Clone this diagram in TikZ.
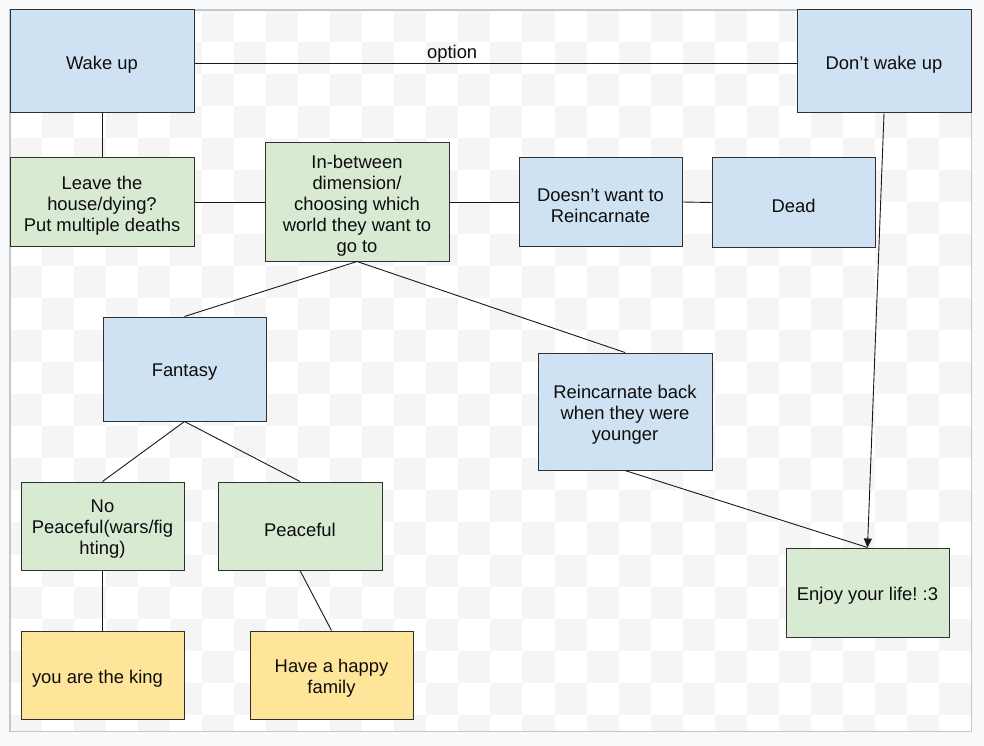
\documentclass[tikz,border=0pt]{standalone}
\usepackage{fontspec}
\setmainfont{Liberation Sans}
\frenchspacing
\usetikzlibrary{arrows.meta}
\definecolor{pagebg}{HTML}{F8F9FA}
\definecolor{checkgray}{HTML}{F5F5F5}
\definecolor{canvasborder}{HTML}{C4C7C9}
\definecolor{boxblue}{HTML}{CFE2F3}
\definecolor{boxgreen}{HTML}{D9EAD3}
\definecolor{boxyellow}{HTML}{FFE599}
\definecolor{edgegray}{HTML}{303030}
\tikzset{
  box/.style={draw=edgegray, line width=1pt, rectangle, inner sep=0pt},
  bluebox/.style={box, fill=boxblue},
  greenbox/.style={box, fill=boxgreen},
  yellowbox/.style={box, fill=boxyellow},
  txt/.style={align=center, inner sep=0pt, yshift=-3.5pt,
    font=\fontsize{18.4pt}{21pt}\selectfont, text=black!95},
  conn/.style={draw=black!90, line width=0.9pt},
  lbl/.style={font=\fontsize{18.4pt}{21pt}\selectfont, text=black!95, inner sep=0.5pt}
}
\begin{document}
\begin{tikzpicture}[x=1pt,y=-1pt]
\useasboundingbox (0,0) rectangle (984,746);
\fill[pagebg] (0,0) rectangle (984,746);
\fill[white] (10,10) rectangle (971.5,731.5);
\begin{scope}
\clip (10,10) rectangle (971.5,731.5);
\foreach \i in {0,...,29}{
  \foreach \j in {0,...,22}{
    \pgfmathtruncatemacro\parity{mod(\i+\j,2)}
    \ifnum\parity=0
      \fill[checkgray] ({10+32.03*\i},{10+32.03*\j}) rectangle ({10+32.03*(\i+1)},{10+32.03*(\j+1)});
    \fi
  }
}
\end{scope}
\draw[canvasborder, line width=1.5pt] (10,10) rectangle (971.5,731.5);

% nodes
\node[bluebox, minimum width=184pt, minimum height=103pt, label={[txt]center:{Wake up}}] (wake) at (102,61.5) {};
\node[bluebox, minimum width=174pt, minimum height=103pt, label={[txt]center:{Don’t wake up}}] (dont) at (884,61.5) {};
\node[greenbox, minimum width=184pt, minimum height=88pt, label={[txt]center:{Leave the\\house/dying?\\Put multiple deaths}}] (leave) at (102,202) {};
\node[greenbox, minimum width=184pt, minimum height=118pt, label={[txt]center:{In-between\\dimension/\\choosing which\\world they want to\\go to}}] (inb) at (357,202) {};
\node[bluebox, minimum width=163pt, minimum height=88pt, label={[txt]center:{Doesn’t want to\\Reincarnate}}] (doesnt) at (600.5,202) {};
\node[bluebox, minimum width=163pt, minimum height=89pt, label={[txt]center:{Dead}}] (dead) at (793.5,202.5) {};
\node[bluebox, minimum width=163pt, minimum height=104pt, label={[txt]center:{Fantasy}}] (fantasy) at (184.5,369) {};
\node[bluebox, minimum width=174pt, minimum height=117pt, label={[txt]center:{Reincarnate back\\when they were\\younger}}] (reinc) at (625,411.5) {};
\node[greenbox, minimum width=163pt, minimum height=89pt, label={[txt]center:{Enjoy your life! :3}}] (enjoy) at (867.5,592.5) {};
\node[greenbox, minimum width=163pt, minimum height=88pt, label={[txt]center:{No\\Peaceful(wars/fig\\hting)}}] (nopeace) at (102.5,526) {};
\node[greenbox, minimum width=164pt, minimum height=88pt, label={[txt]center:{Peaceful}}] (peace) at (300,526) {};
\node[yellowbox, minimum width=163pt, minimum height=88pt, label={[txt, xshift=-5pt]center:{you are the king}}] (king) at (102.5,675) {};
\node[yellowbox, minimum width=163pt, minimum height=88pt, label={[txt]center:{Have a happy\\family}}] (happy) at (331.5,675) {};

% connectors
\draw[conn] ([yshift=-1.5pt]wake.east) -- node[lbl, above, pos=0.428] {option} ([yshift=-1.5pt]dont.west);
\draw[conn] (wake.south) -- (leave.north);
\draw[conn] (leave.east) -- (inb.west);
\draw[conn] (inb.east) -- (doesnt.west);
\draw[conn] (doesnt.east) -- (dead.west);
\draw[conn] (inb.south) -- (fantasy.north);
\draw[conn] (inb.south) -- (reinc.north);
\draw[conn] (fantasy.south) -- (nopeace.north);
\draw[conn] (fantasy.south) -- (peace.north);
\draw[conn] (nopeace.south) -- (king.north);
\draw[conn] (peace.south) -- (happy.north);
\draw[conn] (reinc.south) -- (enjoy.north);
\draw[conn, -{Triangle[length=9pt,width=8pt]}] (dont.south) -- (enjoy.north);
\end{tikzpicture}
\end{document}
